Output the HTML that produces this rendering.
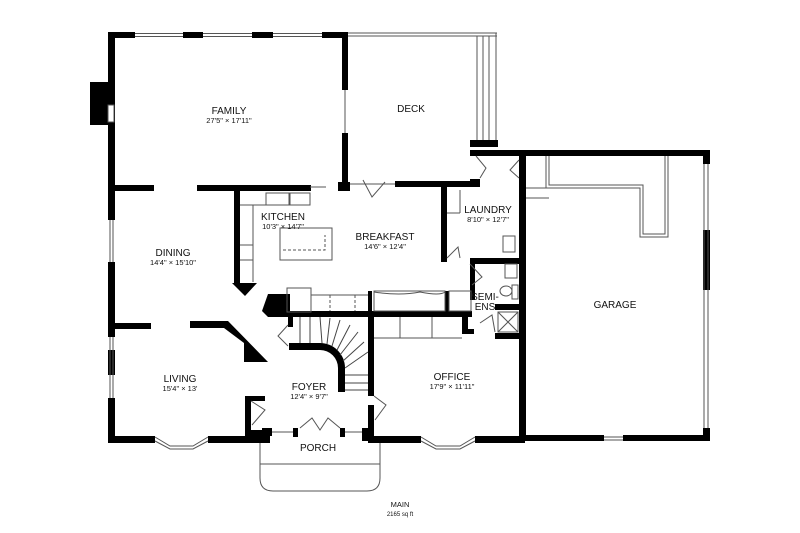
<!DOCTYPE html>
<html><head><meta charset="utf-8"><style>
html,body{margin:0;padding:0;background:#fff}
svg{display:block}
text{font-family:"Liberation Sans",sans-serif;fill:#111;text-anchor:middle}
.t{font-size:10px}
.d{font-size:7.5px}
</style></head><body>
<svg width="800" height="533" viewBox="0 0 800 533" xmlns="http://www.w3.org/2000/svg">
<g fill="#000">
<!-- top family wall -->
<rect x="108" y="32" width="27" height="6"/>
<rect x="183" y="32" width="20" height="6"/>
<rect x="252" y="32" width="21" height="6"/>
<rect x="322" y="32" width="26" height="6"/>
<!-- left outer wall -->
<rect x="108" y="32" width="7" height="188"/>
<rect x="108" y="262" width="7" height="75"/>
<rect x="108" y="350" width="7" height="25"/>
<rect x="108" y="398" width="7" height="45"/>
<!-- fireplace -->
<rect x="90" y="82" width="22" height="43"/>
<!-- family right wall -->
<rect x="342" y="32" width="6" height="58"/>
<rect x="342" y="133" width="6" height="57"/>
<rect x="338" y="182" width="12" height="9"/>
<!-- family/dining wall -->
<rect x="108" y="185" width="46" height="6"/>
<rect x="197" y="185" width="114" height="6"/>
<!-- kitchen wall -->
<rect x="234" y="188" width="6" height="95"/>
<polygon points="232,283 257,283 245,296"/>
<!-- deck bottom wall -->
<rect x="395" y="181" width="83" height="6"/>
<rect x="470" y="140" width="28" height="7"/>
<rect x="470" y="179" width="10" height="8"/>
<!-- laundry -->
<rect x="441" y="187" width="6" height="75"/>
<rect x="470" y="150" width="240" height="6"/>
<rect x="519" y="150" width="7" height="291"/>
<rect x="470" y="258" width="52" height="6"/>
<rect x="470" y="258" width="5" height="42"/>
<rect x="495" y="304" width="27" height="6"/>
<rect x="495" y="333" width="27" height="6"/>
<rect x="462" y="316" width="6" height="18"/>
<rect x="462" y="329" width="12" height="5"/>
<!-- garage -->
<rect x="703" y="150" width="7" height="14"/>
<rect x="703" y="230" width="7" height="60"/>
<rect x="703" y="428" width="7" height="13"/>
<rect x="519" y="435" width="85" height="6"/>
<rect x="623" y="435" width="87" height="6"/>
<!-- stair/central walls -->
<rect x="268" y="311" width="204" height="6"/>
<polygon points="262,311 268,294 290,294 290,317 268,317"/>
<rect x="368" y="291" width="4" height="22"/>
<rect x="445" y="291" width="4" height="22"/>
<rect x="368" y="311" width="6" height="85"/>
<path d="M289,343 H320 A25,25 0 0 1 345,368 V392 H338 V368 A18,18 0 0 0 320,350 H289 Z"/>
<rect x="288" y="317" width="5" height="10"/>
<rect x="368" y="405" width="6" height="36"/>
<!-- living/dining wall -->
<rect x="108" y="323" width="43" height="6"/>
<polygon points="190,321 228,321 268,362 244,362 244,343 224,328 190,328"/>
<!-- bottom walls -->
<rect x="108" y="436" width="47" height="7"/>
<rect x="208" y="436" width="38" height="7"/>
<rect x="245" y="396" width="6" height="47"/>
<rect x="245" y="396" width="20" height="5"/>
<rect x="245" y="430" width="25" height="13"/>
<rect x="262" y="428" width="10" height="8"/>
<rect x="293" y="428" width="5" height="9"/>
<rect x="340" y="428" width="5" height="9"/>
<rect x="362" y="428" width="12" height="13"/>
<rect x="368" y="436" width="53" height="7"/>
<rect x="475" y="436" width="50" height="7"/>
</g>
<g fill="none" stroke="#555" stroke-width="1">
<!-- fireplace inset -->
<rect x="108" y="105" width="6" height="17" fill="#fff"/>
<!-- top windows -->
<line x1="135" y1="33.5" x2="183" y2="33.5"/><line x1="135" y1="36.5" x2="183" y2="36.5"/>
<line x1="203" y1="33.5" x2="252" y2="33.5"/><line x1="203" y1="36.5" x2="252" y2="36.5"/>
<line x1="273" y1="33.5" x2="322" y2="33.5"/><line x1="273" y1="36.5" x2="322" y2="36.5"/>
<line x1="110" y1="220" x2="110" y2="262"/><line x1="113" y1="220" x2="113" y2="262"/>
<line x1="110" y1="337" x2="110" y2="398"/><line x1="113" y1="337" x2="113" y2="398"/>
<line x1="345" y1="90" x2="345" y2="133"/>
<!-- deck -->
<line x1="348" y1="33" x2="497" y2="33"/><line x1="348" y1="36" x2="497" y2="36"/>
<line x1="477" y1="36" x2="477" y2="140"/><line x1="483" y1="36" x2="483" y2="140"/>
<line x1="489" y1="36" x2="489" y2="140"/><line x1="496" y1="33" x2="496" y2="140"/>
<!-- deck door -->
<line x1="350" y1="184" x2="395" y2="184"/>
<path d="M363,180 L372,197 L385,182"/>
<!-- garage right -->
<line x1="704" y1="164" x2="704" y2="428"/><line x1="708" y1="164" x2="708" y2="428"/>
<line x1="604" y1="437" x2="623" y2="437"/><line x1="604" y1="440" x2="623" y2="440"/>
<!-- garage counter -->
<path d="M546,156 V188 H640 V237 H668 V156"/>
<path d="M549,156 V185 H643 V234 H665 V156"/>
<line x1="526" y1="188" x2="546" y2="188"/><line x1="526" y1="198" x2="549" y2="198"/>
<!-- laundry doors -->
<path d="M476,156 L486,168 L480,178"/>
<path d="M519,160 L510,170 L519,178"/>
<path d="M447,258 L458,247 L460,258"/>
<path d="M470,264 L482,277 L472,285"/>
<path d="M480,323 L492,315 L495,332"/>
<line x1="460" y1="190" x2="460" y2="213"/><line x1="447" y1="213" x2="460" y2="213"/>
<rect x="503" y="236" width="12" height="16"/>
<rect x="505" y="264" width="12" height="14"/>
<rect x="498" y="312" width="20" height="20"/><path d="M498,312 L518,332 M518,312 L498,332"/>
<ellipse cx="506" cy="291" rx="6" ry="5"/><rect x="512" y="285" width="6" height="14"/>
<!-- kitchen -->
<rect x="280" y="228" width="52" height="32"/>
<path d="M283,250 H325 V235" stroke-dasharray="3,2"/>
<rect x="266" y="193" width="23" height="12"/>
<rect x="290" y="193" width="20" height="12"/>
<path d="M240,205 H266 M253,205 V282 M240,245 H253 M240,260 H253"/>
<line x1="310" y1="187" x2="326" y2="187"/>
<!-- stair area -->
<rect x="287" y="288" width="24" height="24"/>
<line x1="311" y1="295" x2="368" y2="295"/>
<line x1="330" y1="295" x2="330" y2="311" stroke-dasharray="3,2"/>
<line x1="355" y1="295" x2="355" y2="311" stroke-dasharray="3,2"/>
<path d="M374,292 Q400,296 420,292 Q440,296 445,292"/>
<rect x="374" y="291" width="71" height="20"/>
<rect x="449" y="291" width="22" height="20"/>
<line x1="374" y1="338" x2="462" y2="338"/>
<line x1="400" y1="317" x2="400" y2="338"/><line x1="432" y1="317" x2="432" y2="338"/>
<!-- steps -->
<g stroke="#444">
<line x1="300" y1="317" x2="300" y2="343"/><line x1="310" y1="317" x2="310" y2="343"/>
<line x1="320" y1="317" x2="322" y2="343"/><line x1="330" y1="318" x2="327" y2="344"/>
<line x1="340" y1="320" x2="332" y2="346"/><line x1="350" y1="325" x2="337" y2="350"/>
<line x1="358" y1="332" x2="340" y2="355"/><line x1="364" y1="342" x2="343" y2="361"/>
<line x1="368" y1="352" x2="345" y2="368"/><line x1="345" y1="375" x2="368" y2="375"/>
<line x1="345" y1="383" x2="368" y2="383"/><line x1="345" y1="390" x2="368" y2="390"/>
</g>
<path d="M288,325 L278,336 L288,346"/>
<!-- foyer doors -->
<path d="M374,396 L386,405 L375,420"/>
<path d="M251,401 L265,410 L252,425"/>
<path d="M300,428 L312,418 L320,430 L328,418 L340,428"/>
<line x1="272" y1="432" x2="293" y2="432"/><line x1="345" y1="432" x2="362" y2="432"/>
<!-- bay windows -->
<path d="M155,437 L170,446 H193 L208,437"/><path d="M155,441 L170,449 H193 L208,441"/>
<path d="M421,437 L436,446 H460 L475,437"/><path d="M421,441 L436,449 H460 L475,441"/>
<!-- porch -->
<path d="M260,443 V478 Q260,491 273,491 H367 Q380,491 380,478 V443"/>
<line x1="260" y1="464" x2="380" y2="464"/>
</g>
<text class="t" x="229" y="114">FAMILY</text><text class="d" x="229" y="123">27'5" × 17'11"</text>
<text class="t" x="411" y="112">DECK</text>
<text class="t" x="283" y="220">KITCHEN</text><text class="d" x="283" y="229">10'3" × 14'7"</text>
<text class="t" x="385" y="240">BREAKFAST</text><text class="d" x="385" y="249">14'6" × 12'4"</text>
<text class="t" x="173" y="256">DINING</text><text class="d" x="173" y="265">14'4" × 15'10"</text>
<text class="t" x="488" y="213">LAUNDRY</text><text class="d" x="488" y="222">8'10" × 12'7"</text>
<text class="t" x="485" y="300">SEMI-</text><text class="t" x="485" y="310">ENS</text>
<text class="t" x="615" y="308">GARAGE</text>
<text class="t" x="180" y="382">LIVING</text><text class="d" x="180" y="391">15'4" × 13'</text>
<text class="t" x="309" y="390">FOYER</text><text class="d" x="309" y="399">12'4" × 9'7"</text>
<text class="t" x="452" y="380">OFFICE</text><text class="d" x="452" y="389">17'9" × 11'11"</text>
<text class="t" x="318" y="451">PORCH</text>
<text class="d" x="400" y="507">MAIN</text><text style="font-size:6px" x="400" y="516">2165 sq ft</text>
</svg>
</body></html>
